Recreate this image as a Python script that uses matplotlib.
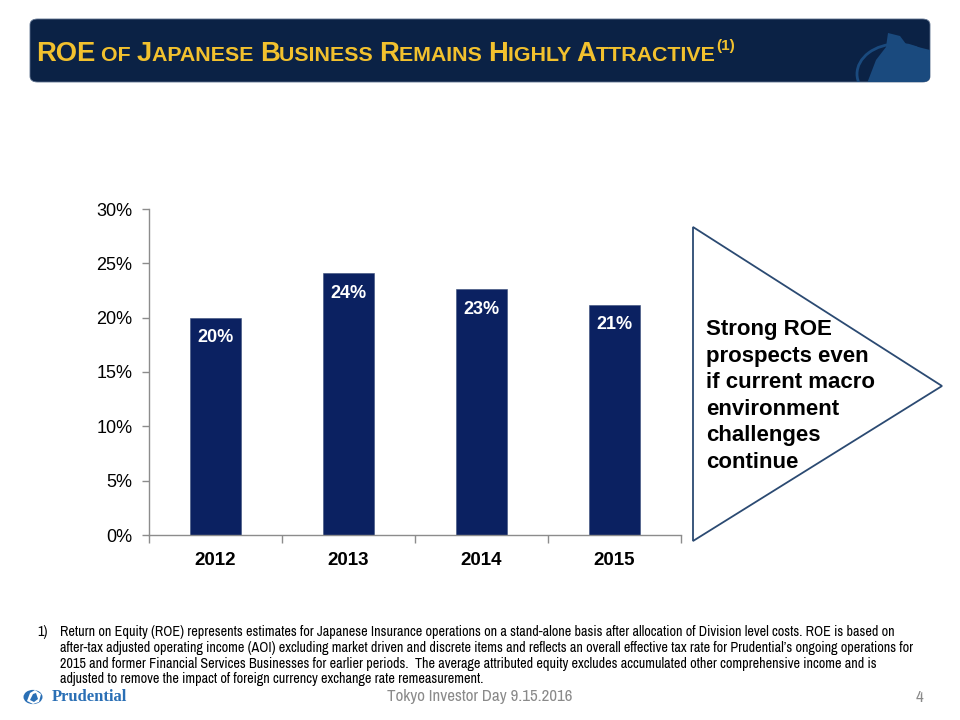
import matplotlib
matplotlib.use("Agg")
import matplotlib.pyplot as plt
from matplotlib.patches import FancyBboxPatch, Polygon, Circle
from matplotlib import font_manager

# ---------------- data ----------------
years = ["2012", "2013", "2014", "2015"]
roe = [20.0, 24.1, 22.6, 21.2]
roe_labels = ["20%", "24%", "23%", "21%"]
yticks = [0, 5, 10, 15, 20, 25, 30]
ytick_labels = ["0%", "5%", "10%", "15%", "20%", "25%", "30%"]

title_parts = [("ROE", "big"), (" OF ", "small"), ("J", "big"), ("APANESE ", "small"),
               ("B", "big"), ("USINESS ", "small"), ("R", "big"), ("EMAINS ", "small"),
               ("H", "big"), ("IGHLY ", "small"), ("A", "big"), ("TTRACTIVE", "small"),
               ("(1)", "sup")]
callout_lines = ["Strong ROE", "prospects even", "if current macro",
                 "environment", "challenges", "continue"]
footnote_lines = [
    "Return on Equity (ROE) represents estimates for Japanese Insurance operations on a stand-alone basis after allocation of Division level costs. ROE is based on",
    "after-tax adjusted operating income (AOI) excluding market driven and discrete items and reflects an overall effective tax rate for Prudential\u2019s ongoing operations for",
    "2015 and former Financial Services Businesses for earlier periods.  The average attributed equity excludes accumulated other comprehensive income and is",
    "adjusted to remove the impact of foreign currency exchange rate remeasurement.",
]
footer_text = "Tokyo Investor Day 9.15.2016"
page_number = "4"

# ---------------- fonts ----------------
sans = "Liberation Sans"
narrow = None
narrow_stretch = "normal"
for f in font_manager.fontManager.ttflist:
    n = f.name.lower()
    if "narrow" in n or "condensed" in n:
        narrow = f.name
        break
if narrow is None:
    for f in font_manager.fontManager.ttflist:
        st = f.stretch
        if (isinstance(st, str) and "condensed" in st) or (isinstance(st, (int, float)) and st < 500):
            narrow = f.name
            narrow_stretch = "condensed"
            break
have_narrow = narrow is not None
if not have_narrow:
    narrow = sans

NAVY = "#0B2161"
BANNER = "#0B2245"
GOLD = "#F2C12E"

W, H = 960, 720
fig = plt.figure(figsize=(9.6, 7.2), dpi=100)
fig.patch.set_facecolor("white")

def fx(px):
    return px / W

def fy(py):
    return 1 - py / H

# ---------------- banner ----------------
banner = FancyBboxPatch((fx(30), fy(82)), fx(900), 63 / H,
                        boxstyle="round,pad=0,rounding_size=0.008",
                        transform=fig.transFigure, facecolor=BANNER,
                        edgecolor="#5A6E8C", linewidth=0.6, zorder=1)
fig.patches.append(banner)

circ = Circle((fx(897), fy(74)), 40 / W, transform=fig.transFigure,
              facecolor="none", edgecolor="#1A4A7E", linewidth=2.0, zorder=2)
circ.set_clip_path(banner)
fig.patches.append(circ)
rock = Polygon([(fx(866), fy(86)), (fx(876), fy(60)), (fx(886), fy(47)),
                (fx(888), fy(33)), (fx(900), fy(36)), (fx(906), fy(44)),
                (fx(930), fy(50)), (fx(930), fy(86))],
               closed=True, transform=fig.transFigure,
               facecolor="#1A4A7E", edgecolor="none", zorder=2)
rock.set_clip_path(banner)
fig.patches.append(rock)

# title in small caps, placed piece by piece
fig.canvas.draw()
renderer = fig.canvas.get_renderer()
x = fx(36)
ybase = fy(61)
sizes = {"big": 19.7, "small": 15.4, "sup": 11}
for txt, kind in title_parts:
    yy = ybase + (11 / H if kind == "sup" else 0)
    t = fig.text(x, yy, txt, fontsize=sizes[kind], fontweight="bold",
                 family=sans, color=GOLD, ha="left", va="baseline", zorder=3)
    bb = t.get_window_extent(renderer=renderer)
    x += bb.width / W

# ---------------- chart ----------------
ax = fig.add_axes([fx(149), fy(535), fx(681) - fx(149), (535 - 209) / H])
xs = list(range(len(years)))
ax.bar(xs, roe, width=0.39, color=NAVY, edgecolor="#3A4E7A", linewidth=0.4, zorder=2)
for xi, v, lab in zip(xs, roe, roe_labels):
    ax.annotate(lab, (xi, v), xytext=(0, -14.5), textcoords="offset points",
                ha="center", va="center", color="white", fontsize=13,
                fontweight="bold", family=sans)

ax.set_xlim(-0.5, len(years) - 0.5)
ax.set_ylim(0, 30)
ax.set_yticks(yticks)
ax.set_yticklabels(ytick_labels, fontsize=13, family=sans, color="black")
ax.set_xticks(xs)
ax.set_xticklabels(years, fontsize=13.5, family=sans, fontweight="bold", color="black")
ax.tick_params(axis="y", direction="out", length=5, width=1, color="#8C8C8C", pad=7)
ax.tick_params(axis="x", length=0, pad=12)
ax.set_xticks([i - 0.5 for i in range(len(years) + 1)], minor=True)
ax.tick_params(axis="x", which="minor", direction="out", length=6, width=1, color="#8C8C8C")
for s in ["top", "right"]:
    ax.spines[s].set_visible(False)
for s in ["left", "bottom"]:
    ax.spines[s].set_color("#8C8C8C")
    ax.spines[s].set_linewidth(1.0)

# ---------------- callout triangle ----------------
tri = Polygon([(fx(693), fy(227)), (fx(942), fy(386)), (fx(693), fy(541))],
              closed=True, transform=fig.transFigure, facecolor="white",
              edgecolor="#2B4A72", linewidth=1.3, zorder=1)
fig.patches.append(tri)
for i, line in enumerate(callout_lines):
    fig.text(fx(706), fy(330 + i * 26.5), line, fontsize=16, fontweight="bold",
             family=sans, color="black", ha="left", va="center")

# ---------------- footnote ----------------
fn_size = 10.2 if have_narrow else 7.9
fig.text(fx(37), fy(632), "1)", fontsize=fn_size, family=narrow, stretch=narrow_stretch,
         color="black", ha="left", va="center")
for i, line in enumerate(footnote_lines):
    fig.text(fx(60), fy(632 + i * 15.8), line, fontsize=fn_size, family=narrow,
             stretch=narrow_stretch, color="black", ha="left", va="center")

# ---------------- footer ----------------
ft_size = 12.2 if have_narrow else 10
fig.text(fx(480), fy(697), footer_text, fontsize=ft_size, family=narrow,
         stretch=narrow_stretch, color="#8A8A8A", ha="center", va="center")
fig.text(fx(919), fy(697), page_number, fontsize=ft_size, family=narrow,
         stretch=narrow_stretch, color="#8A8A8A", ha="center", va="center")

# bottom-left logo
logo = Circle((fx(33), fy(697)), 9.5 / W, transform=fig.transFigure,
              facecolor="#2A6FB5", edgecolor="none", zorder=3)
fig.patches.append(logo)
fig.patches.append(Polygon([(fx(27), fy(701)), (fx(30), fy(693)), (fx(35), fy(690)),
                            (fx(41), fy(694)), (fx(39), fy(702)), (fx(33), fy(704))],
                           closed=True, transform=fig.transFigure, facecolor="white",
                           edgecolor="none", zorder=4))
fig.patches.append(Polygon([(fx(30), fy(700)), (fx(33), fy(694)), (fx(36), fy(693)),
                            (fx(38), fy(699)), (fx(34), fy(702))],
                           closed=True, transform=fig.transFigure, facecolor="#2A6FB5",
                           edgecolor="none", zorder=5))
fig.text(fx(52), fy(697), "Prudential", fontsize=12, fontweight="bold",
         family="Liberation Serif", color="#2A6FB5", ha="left", va="center")

fig.savefig("out.png", dpi=100)
